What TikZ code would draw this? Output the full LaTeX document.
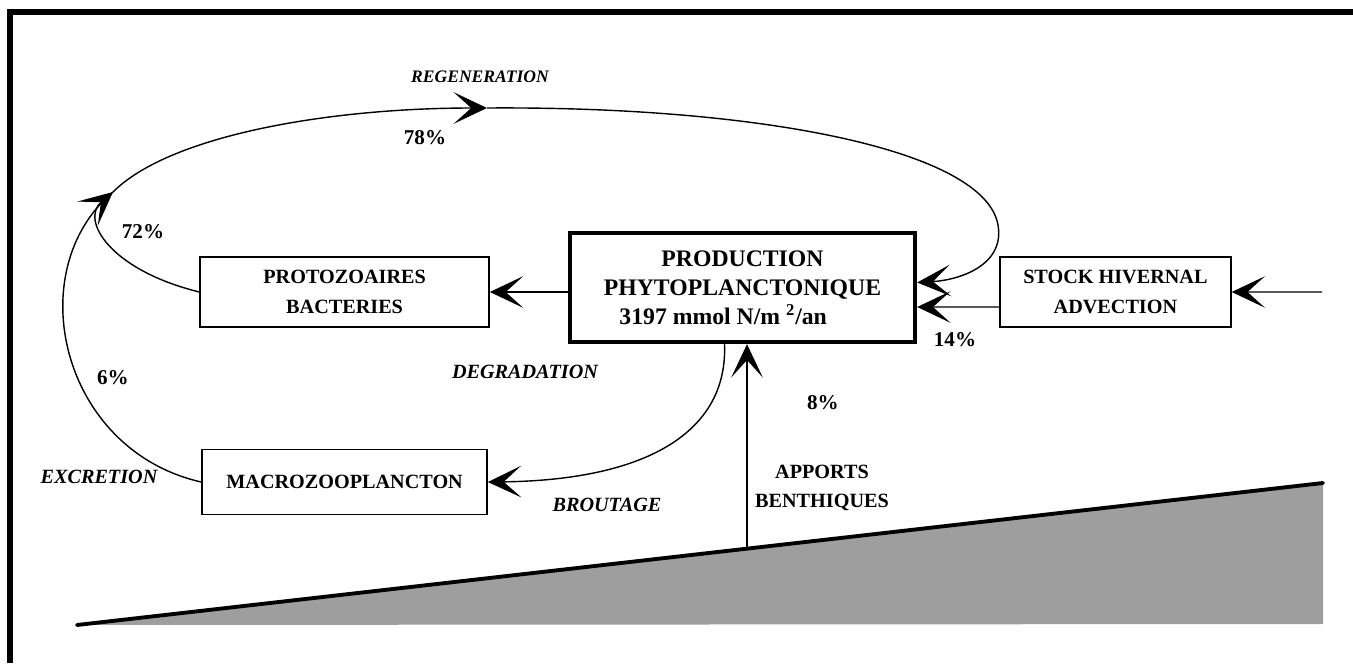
\documentclass[tikz,border=0pt]{standalone}
\usepackage{fontspec}
\setmainfont{Liberation Serif}
\usetikzlibrary{arrows.meta,positioning,calc}

\begin{document}
\begin{tikzpicture}[x=0.02cm, y=-0.02cm,
    box/.style={draw, line width=0.9pt, inner sep=0pt, align=center,
                minimum height=1.4cm, font=\fontsize{11.5}{17}\selectfont\bfseries},
    flow/.style={line width=0.8pt, -{Stealth[length=19pt,width=18pt,inset=10pt]}},
    lab/.style={font=\fontsize{11.5}{14}\selectfont\bfseries\itshape},
    pct/.style={font=\fontsize{12}{14}\selectfont\bfseries}]

  \useasboundingbox (0,0) rectangle (1353,663);

  % frame, left and top edges
  \draw[line width=3.6pt] (10,663) -- (10,12) -- (1353,12);

  % sea floor
  \fill[black!38] (77,625) -- (1323,483) -- (1323,624) -- cycle;
  \draw[line width=2.2pt, line cap=round] (77,625) -- (1323,483);

  % compartments
  \node[box, line width=2.5pt, minimum width=6.9cm, minimum height=2.18cm,
        font=\fontsize{13.5}{16.5}\selectfont\bfseries] (prod) at (742.5,287.5)
        {PRODUCTION\\PHYTOPLANCTONIQUE\\3197 mmol N/m \textsuperscript{2}/an\hspace*{22pt}};
  \node[box, minimum width=5.78cm, yshift=-0.09cm] (proto) [left=1.56cm of prod] {PROTOZOAIRES\\BACTERIES};
  \node[box, minimum width=4.62cm, yshift=-0.09cm] (stock) [right=1.64cm of prod] {STOCK HIVERNAL\\ADVECTION};
  \node[box, minimum width=5.7cm, minimum height=1.3cm] (macro) [below=2.42cm of proto] {MACROZOOPLANCTON};

  % free ends
  \coordinate (merge) at (113,192);
  \coordinate (regen) at (487,108);
  \coordinate (adv) at (1322,292);
  \coordinate (seabed) at (747,548);

  % fluxes
  \draw[flow] (prod.west |- proto.east) -- (proto.east);
  \draw[flow] ($(stock.west)+(0,15)$) -- ($(prod.east)+(0,19.5)$);
  \draw[flow] (adv) -- (stock.east);
  \draw[flow] (seabed) -- (seabed |- prod.south);
  \draw[flow] ($(prod.south)+(-18,0)$) .. controls (728,430) and (650,480) .. (macro.east);

  % regeneration loop
  \draw[flow] (proto.west) .. controls (110,270) and (80,220) .. (merge);
  \draw[line width=0.8pt] (macro.west) .. controls (60,450) and (20,270) .. (merge);
  \draw[flow] (merge) .. controls (170,135) and (330,108) .. (regen);
  \draw[flow] (regen) .. controls (760,106) and (985,150) .. (998,225)
              .. controls (1005,265) and (960,280) .. ($(prod.east)+(0,-5)$);

  % labels
  \node[lab, font=\fontsize{10}{12}\selectfont\bfseries\itshape] (lregen) at (480,77) {REGENERATION};
  \node[lab] (ldegr) at (525,372) {DEGRADATION};
  \node[lab] (lbrout) at (607,505) {BROUTAGE};
  \node[lab] (lexcr) at (99,477) {EXCRETION};
  \node[box, draw=none, minimum height=0pt] (lapp) at (822,488) {APPORTS\\BENTHIQUES};
  \node[pct] (p78) at (425,138) {78\%};
  \node[pct] (p72) at (143,232) {72\%};
  \node[pct] (p6) at (113,378) {6\%};
  \node[pct] (p14) at (955,340) {14\%};
  \node[pct] (p8) at (823,403) {8\%};

\end{tikzpicture}
\end{document}
